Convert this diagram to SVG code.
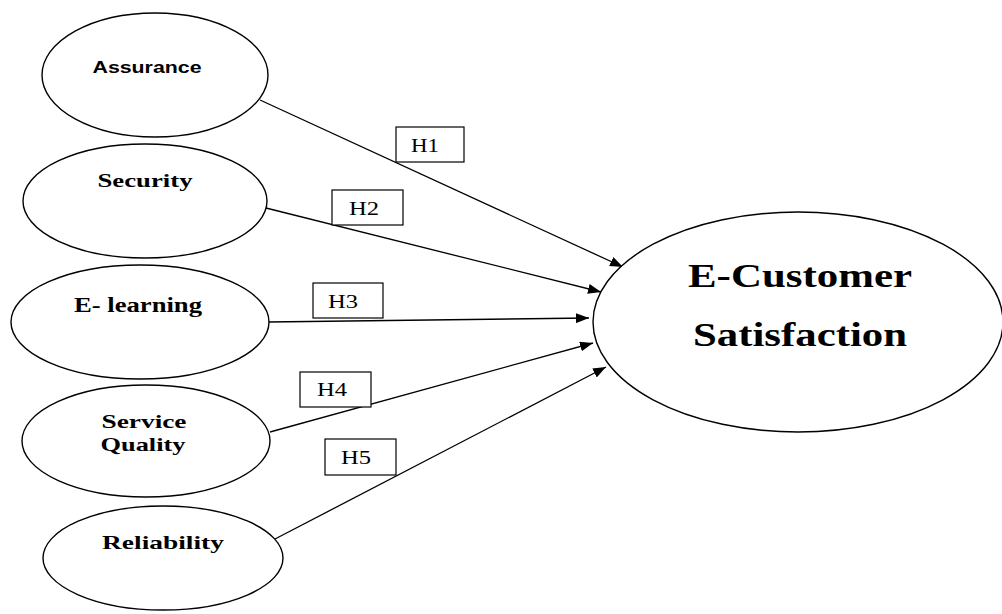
<svg xmlns="http://www.w3.org/2000/svg" width="1002" height="614" viewBox="0 0 1002 614">
<style>
.node ellipse{fill:#fff;stroke:#000;stroke-width:1.4}
.lbl rect{fill:#fff;stroke:#000;stroke-width:1.2}
.serif{font-family:"Liberation Serif","Times New Roman",serif;font-weight:bold;fill:#000;text-anchor:middle}
.sans{font-family:"Liberation Sans",Arial,sans-serif;font-weight:bold;fill:#000;text-anchor:middle}
.h{font-family:"Liberation Serif","Times New Roman",serif;fill:#000;text-anchor:middle;font-size:18px}
#connectors line{stroke:#000;stroke-width:1.3;marker-end:url(#arr)}
</style>
<defs>
<marker id="arr" markerUnits="userSpaceOnUse" markerWidth="14" markerHeight="10" refX="13" refY="5" orient="auto">
<path d="M0,0 L13,5 L0,10 Z" fill="#000"/>
</marker>
</defs>
<rect width="1002" height="614" fill="#fff"/>
<g id="connectors">
<line x1="260" y1="100" x2="623" y2="267"/>
<line x1="266" y1="208" x2="601" y2="292"/>
<line x1="268" y1="322" x2="589" y2="318"/>
<line x1="270" y1="432" x2="593" y2="343"/>
<line x1="275" y1="539" x2="606" y2="367"/>
</g>
<g id="assurance" class="node">
<ellipse cx="155" cy="75" rx="113" ry="62"/>
<text class="sans" x="147" y="73" font-size="16" textLength="109" lengthAdjust="spacingAndGlyphs">Assurance</text>
</g>
<g id="security" class="node">
<ellipse cx="145" cy="201" rx="122" ry="57"/>
<text class="serif" x="145" y="187" font-size="19" textLength="95" lengthAdjust="spacingAndGlyphs">Security</text>
</g>
<g id="elearning" class="node">
<ellipse cx="140" cy="322" rx="129" ry="57"/>
<text class="serif" x="138" y="312" font-size="20" textLength="128" lengthAdjust="spacingAndGlyphs">E- learning</text>
</g>
<g id="servicequality" class="node">
<ellipse cx="146" cy="441" rx="124" ry="56"/>
<text class="serif" x="144" y="428" font-size="19" textLength="85" lengthAdjust="spacingAndGlyphs">Service</text>
<text class="serif" x="143" y="451" font-size="19" textLength="85" lengthAdjust="spacingAndGlyphs">Quality</text>
</g>
<g id="reliability" class="node">
<ellipse cx="163" cy="558" rx="120" ry="52"/>
<text class="serif" x="163" y="549" font-size="19" textLength="122" lengthAdjust="spacingAndGlyphs">Reliability</text>
</g>
<g id="ecustomer" class="node">
<ellipse cx="798" cy="322" rx="205" ry="110"/>
<text class="serif" x="800" y="287" font-size="33" textLength="224" lengthAdjust="spacingAndGlyphs">E-Customer</text>
<text class="serif" x="800" y="346" font-size="33" textLength="214" lengthAdjust="spacingAndGlyphs">Satisfaction</text>
</g>
<g id="h1" class="lbl"><rect x="396" y="127" width="68" height="35"/><text class="h" x="425" y="152" textLength="28" lengthAdjust="spacingAndGlyphs">H1</text></g>
<g id="h2" class="lbl"><rect x="332" y="190" width="71" height="35"/><text class="h" x="364" y="215" textLength="30" lengthAdjust="spacingAndGlyphs">H2</text></g>
<g id="h3" class="lbl"><rect x="313" y="283" width="70" height="35"/><text class="h" x="343" y="308" textLength="30" lengthAdjust="spacingAndGlyphs">H3</text></g>
<g id="h4" class="lbl"><rect x="300" y="372" width="71" height="35"/><text class="h" x="332" y="396" textLength="30" lengthAdjust="spacingAndGlyphs">H4</text></g>
<g id="h5" class="lbl"><rect x="325" y="439" width="71" height="36"/><text class="h" x="356" y="464" textLength="30" lengthAdjust="spacingAndGlyphs">H5</text></g>
</svg>
